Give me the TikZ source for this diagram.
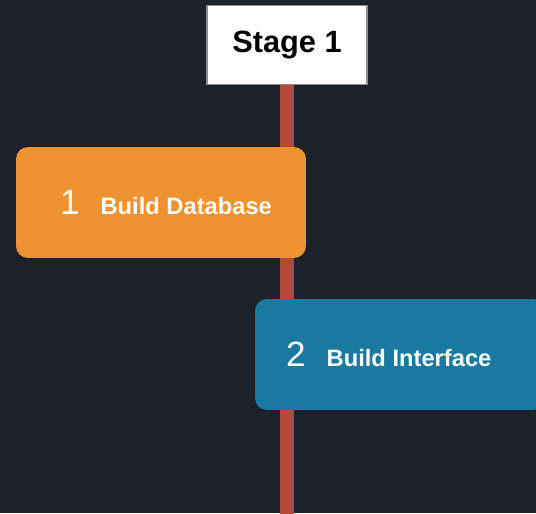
\documentclass[tikz,border=0pt]{standalone}
\usepackage{fontspec}
\setmainfont{Liberation Sans}
\usepackage{xcolor}
\usepackage{tikz}
\usetikzlibrary{positioning}
\definecolor{canvas}{RGB}{28,33,44}
\definecolor{taskorange}{RGB}{239,146,50}
\definecolor{taskblue}{RGB}{25,121,160}
\definecolor{polered}{RGB}{178,73,57}
\definecolor{rim}{RGB}{140,140,140}
\tikzset{
    stagebox/.style={rectangle, draw=rim, thick, fill=white, minimum width=3.2cm, minimum height=1.58cm, text centered, font=\bfseries\fontsize{17.5}{20}\selectfont},
    task/.style={rectangle, rounded corners=0.24cm, minimum width=5.8cm, minimum height=2.22cm, text centered, text=white, font=\bfseries\fontsize{13.5}{16}\selectfont},
    pole/.style={line width=0.28cm, polered}
}
\newcommand{\tasknum}[1]{{\mdseries\fontsize{20}{22}\selectfont #1}\hspace{0.42cm}}

\begin{document}
\begin{tikzpicture}[x=0.02cm, y=-0.02cm]
    % Canvas
    \fill[canvas] (0,0) rectangle (536,513);
    \useasboundingbox (0,0) rectangle (536,513);
    \clip (0,0) rectangle (536,513);

    % Stage header and its pole
    \node[stagebox] (stage) at (287,45) {Stage 1};
    \coordinate (pole_end) at (287,520);
    \draw[pole] (stage.south) -- (pole_end);

    % Tasks
    \node[task, fill=taskorange] (build_db) at (161,202.5) {\hspace*{0.2cm}\tasknum{1}Build Database};
    \node[task, fill=taskblue] (build_ui) at (400,354.5) {\tasknum{2}Build Interface\hspace*{0.45cm}};
\end{tikzpicture}
\end{document}
